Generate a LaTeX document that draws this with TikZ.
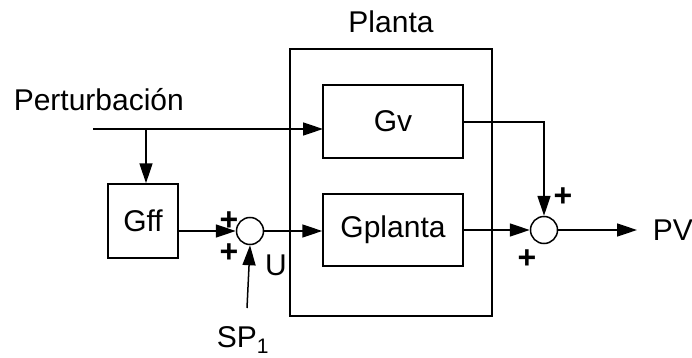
\documentclass[tikz,border=0pt]{standalone}
\usepackage{fontspec}
\setmainfont[Ligatures=NoCommon]{Liberation Sans}
\usetikzlibrary{arrows.meta}
\begin{document}
\begin{tikzpicture}[x=1pt,y=-1pt,
  line width=1.5pt,
  every node/.style={font=\fontsize{30}{35}\selectfont},
  blk/.style={draw,rectangle,inner sep=0pt},
  sumc/.style={draw,circle,minimum size=27pt,inner sep=0pt},
  arr/.style={-{Triangle[length=20pt,width=13pt]}},
  pl/.style={font=\fontsize{32}{36}\selectfont\bfseries,inner sep=0pt}]
\useasboundingbox (0,0) rectangle (692,358);
% blocks
\node[blk,minimum width=202pt,minimum height=267pt] (planta) at (391,182.5) {};
\node[inner sep=0pt] (plantalbl) at (391,22) {Planta};
\node[blk,minimum width=140pt,minimum height=73pt] (gv) at (393,121.5) {Gv};
\node[blk,minimum width=140pt,minimum height=72pt] (gp) at (393,230) {Gplanta};
\node[blk,minimum width=70pt,minimum height=74pt] (gff) at (143,221) {Gff};
\node[sumc] (s1) at (250,231) {};
\node[sumc] (s2) at (544,230) {};
% labels
\node[anchor=west,inner sep=0pt] (pert) at (13,100) {Perturbación};
\node[anchor=west,inner sep=0pt] (pv) at (652,230) {PV};
\node[inner sep=0pt] (u) at (276,265) {U};
\node[inner sep=0pt] (sp) at (243,340) {SP\textsubscript{1}};
\node[pl] (p1) at (229,221) {+};
\node[pl] (p2) at (229,253) {+};
\node[pl] (p3) at (563,197) {+};
\node[pl] (p4) at (527,259) {+};
% coordinates
\coordinate (pstart) at (93,129);
\coordinate (pbr) at (146,129);
\coordinate (gvin) at (323,129);
\coordinate (gffout) at (178,231);
\coordinate (gvout) at (463,122);
\coordinate (gvcorner) at (544,122);
\coordinate (pvend) at (637,230);
\coordinate (spstart) at (247,308);
% connectors
\draw[arr] (pstart) -- (gvin);
\draw[arr] (pbr) -- (pbr |- gff.north);
\draw[arr] (gffout) -- (s1.west);
\draw[arr] (s1.east) -- (s1.east -| gp.west);
\draw[arr] (spstart) -- (s1.south);
\draw[arr] (gvout) -- (gvcorner) -- (s2.north);
\draw[arr] (gp.east |- s2) -- (s2.west);
\draw[arr] (s2.east) -- (pvend);
\end{tikzpicture}
\end{document}
